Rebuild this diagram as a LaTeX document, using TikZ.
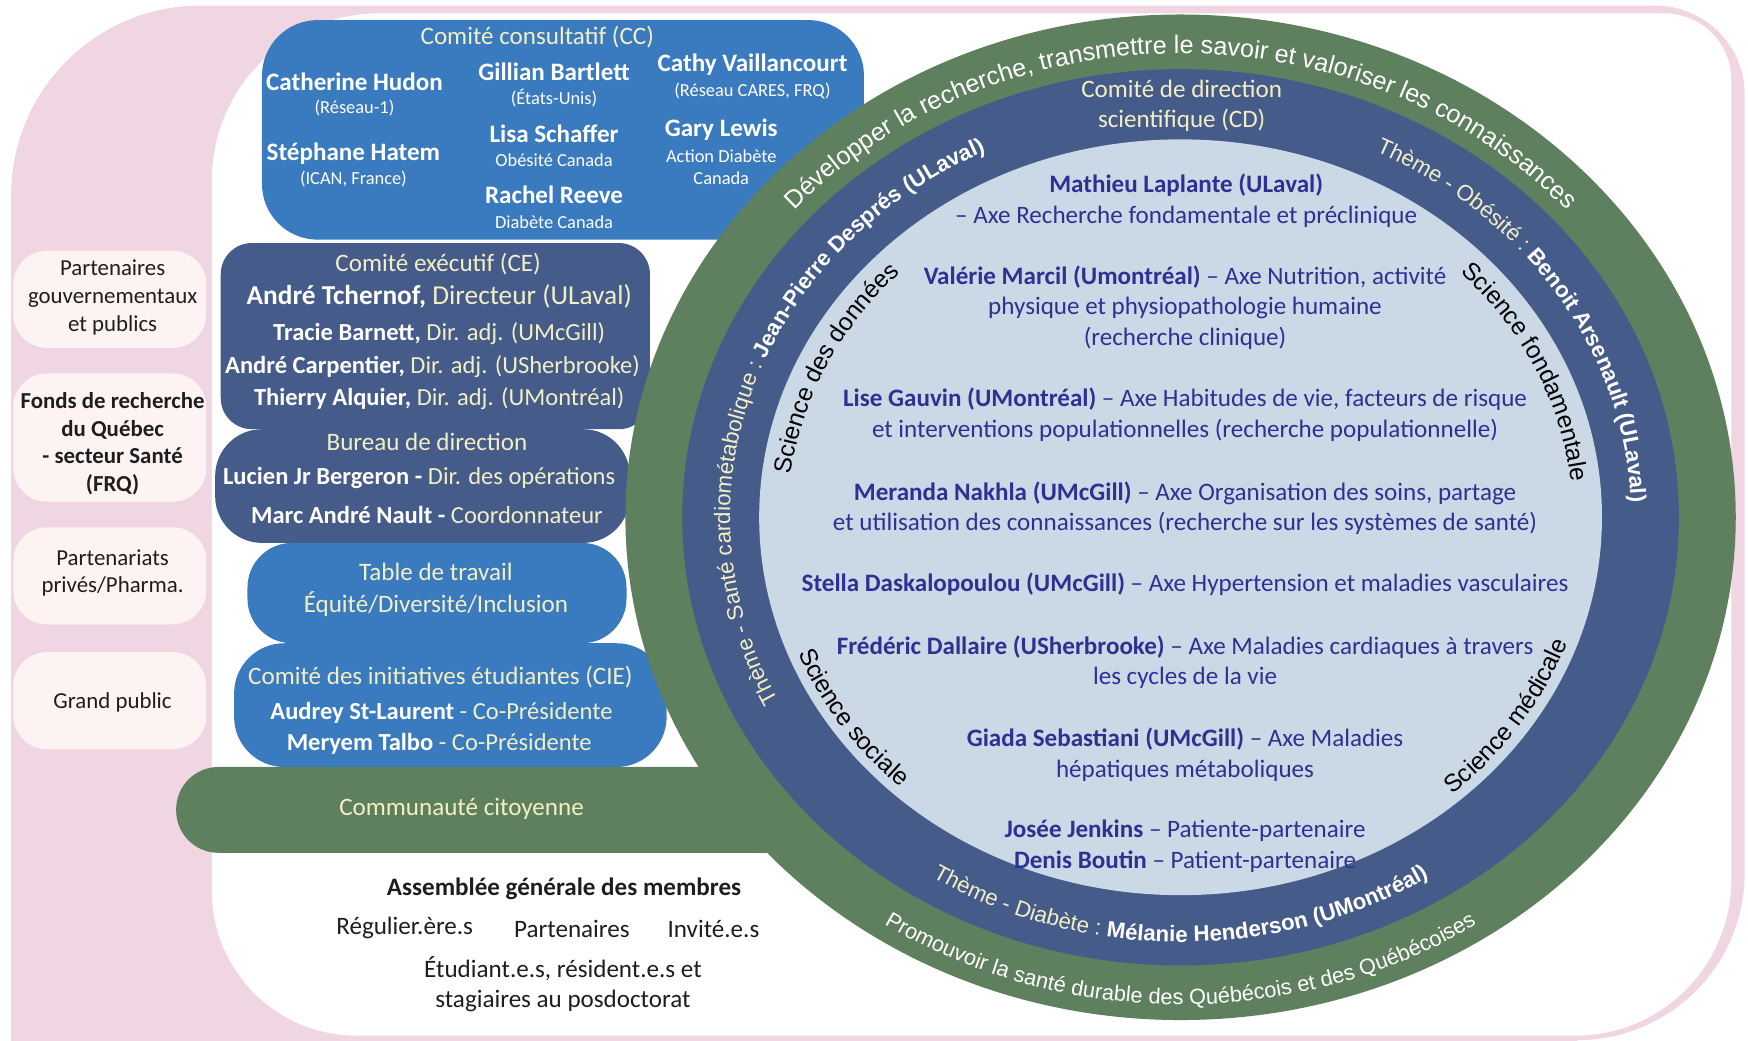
\documentclass[tikz,border=0pt]{standalone}
\usepackage{fontspec}
\setmainfont{Carlito}
\newfontfamily\arcfont{Liberation Sans}
\usetikzlibrary{decorations.text}

\definecolor{pinkbg}{RGB}{240,213,227}
\definecolor{boxpink}{RGB}{253,243,243}
\definecolor{medblue}{RGB}{58,123,191}
\definecolor{navy}{RGB}{69,91,137}
\definecolor{ringgreen}{RGB}{94,128,94}
\definecolor{paleblue}{RGB}{203,216,230}
\definecolor{cream}{RGB}{243,239,196}
\definecolor{inkblue}{RGB}{46,49,146}
\definecolor{ink}{RGB}{30,30,30}

% ring centre
\newcommand*{\ringx}{1059}
\newcommand*{\ringy}{-464}

\newcommand*{\nm}[1]{{\bfseries\color{white}#1}}
\newcommand*{\themefont}{\arcfont\fontsize{20}{20}\selectfont\color{cream}}
\newcommand*{\leadfont}{\arcfont\bfseries\fontsize{20}{20}\selectfont\color{white}}
\newcommand*{\sciencefont}{\arcfont\fontsize{22}{22}\selectfont\color{black}}

\begin{document}
\begin{tikzpicture}
[
	x=1pt,
	y=1pt,
	boxtitle/.style={text=cream,font=\fontsize{22.5}{26}\selectfont,inner sep=0pt},
	ccname/.style={text=white,font=\bfseries\fontsize{22.5}{26}\selectfont,inner sep=0pt},
	ccnote/.style={text=white,font=\fontsize{16.5}{20}\selectfont,align=center,inner sep=0pt},
	member/.style={text=cream,font=\fontsize{22}{25}\selectfont,inner sep=0pt},
	partner/.style={text=ink,font=\fontsize{20.5}{25}\selectfont,align=center,inner sep=0pt},
	agtext/.style={text=ink,font=\fontsize{22.5}{27}\selectfont,align=center,inner sep=0pt},
	axis/.style={text=inkblue,font=\fontsize{22.5}{27.5}\selectfont,align=center,inner sep=0pt},
	ringtext/.style={decorate,decoration={text along path,text align=center,text={#1}}}
]

	\useasboundingbox (0,0) rectangle (1568,-933);

	% background
	\fill[pinkbg] (10,-940) -- (10,-175) arc[start angle=180,end angle=90,radius=170pt]
	  -- (1485,-5) arc[start angle=90,end angle=0,radius=80pt]
	  -- (1565,-783) arc[start angle=0,end angle=-90,radius=150pt]
	  -- (1415,-940) -- cycle;
	\fill[white] (190,-162) arc[start angle=180,end angle=90,radius=150pt]
	  -- (1493,-12) arc[start angle=90,end angle=0,radius=60pt]
	  -- (1553,-789) arc[start angle=0,end angle=-90,radius=140pt]
	  -- (320,-929) arc[start angle=270,end angle=180,radius=130pt] -- cycle;

	% partner boxes
	\foreach \top/\bot in {225/312,335/450,473/560,585/672} {
		\fill[boxpink,rounded corners=30pt] (12,-\top) rectangle (185,-\bot);
	}
	\node[partner] (gouv) at (101,-267) {Partenaires\\gouvernementaux\\et publics};
	\node[partner,font=\bfseries\fontsize{20.5}{25}\selectfont] (frq) at (101,-398) {Fonds de recherche\\du Québec\\- secteur Santé\\(FRQ)};
	\node[partner] (pharma) at (101,-514) {Partenariats\\privés/Pharma.};
	\node[partner] (public) at (101,-630) {Grand public};

	% committee boxes
	\fill[medblue,rounded corners=50pt] (235,-18) rectangle (775,-215);
	\fill[navy,rounded corners=28pt] (198,-218) rectangle (583,-385);
	\fill[navy,rounded corners=42pt] (193,-385) rectangle (565,-487);
	\fill[medblue,rounded corners=40pt] (222,-487) rectangle (562,-577);
	\fill[medblue,rounded corners=45pt] (210,-577) rectangle (598,-688);
	\fill[ringgreen,rounded corners=38pt] (158,-688) rectangle (700,-765);
	\fill[ringgreen] (600,-688) rectangle (700,-765);

	% rings
	\fill[ringgreen] (\ringx,\ringy) ellipse[x radius=498pt,y radius=451pt];
	\fill[navy] (\ringx,\ringy) ellipse[x radius=447pt,y radius=402pt];
	\fill[paleblue] (\ringx,\ringy) ellipse[x radius=378pt,y radius=339pt];

	% comite consultatif
	\node[boxtitle] (cc) at (482,-33) {Comité consultatif (CC)};
	\node[ccname] (hudon) at (318,-73) {Catherine Hudon};
	\node[ccnote] (hudonorg) at (318,-97) {(Réseau-1)};
	\node[ccname] (hatem) at (317,-138) {Stéphane Hatem};
	\node[ccnote] (hatemorg) at (317,-161) {(ICAN, France)};
	\node[ccname] (bartlett) at (497,-64) {Gillian Bartlett};
	\node[ccnote] (bartlettorg) at (497,-88) {(États-Unis)};
	\node[ccname] (schaffer) at (497,-120) {Lisa Schaffer};
	\node[ccnote] (schafferorg) at (497,-144) {Obésité Canada};
	\node[ccname] (reeve) at (497,-175) {Rachel Reeve};
	\node[ccnote] (reeveorg) at (497,-199) {Diabète Canada};
	\node[ccname] (vaillancourt) at (675,-58) {Cathy Vaillancourt};
	\node[ccnote] (vaillancourtorg) at (675,-82) {(Réseau CARES, FRQ)};
	\node[ccname] (lewis) at (647,-116) {Gary Lewis};
	\node[ccnote] (lewisorg) at (647,-150) {Action Diabète\\Canada};

	% comite executif
	\node[boxtitle] (ce) at (393,-237) {Comité exécutif (CE)};
	\node[member,font=\fontsize{24.5}{27}\selectfont] (tchernof) at (394,-266) {\nm{André Tchernof,} Directeur (ULaval)};
	\node[member] (barnett) at (394,-299) {\nm{Tracie Barnett,} Dir. adj. (UMcGill)};
	\node[member] (carpentier) at (388,-329) {\nm{André Carpentier,} Dir. adj. (USherbrooke)};
	\node[member] (alquier) at (394,-358) {\nm{Thierry Alquier,} Dir. adj. (UMontréal)};

	% bureau de direction
	\node[boxtitle] (bureau) at (383,-396) {Bureau de direction};
	\node[member] (bergeron) at (376,-429) {\nm{Lucien Jr Bergeron -} Dir. des opérations};
	\node[member] (nault) at (383,-462) {\nm{Marc André Nault -} Coordonnateur};

	% table de travail
	\node[boxtitle,align=center,font=\fontsize{22.5}{28}\selectfont] (table) at (391,-529) {Table de travail\\Équité/Diversité/Inclusion};

	% etudiants
	\node[boxtitle] (cie) at (395,-607) {Comité des initiatives étudiantes (CIE)};
	\node[member] (stlaurent) at (396,-639) {\nm{Audrey St-Laurent} - Co-Présidente};
	\node[member] (talbo) at (394,-667) {\nm{Meryem Talbo} - Co-Présidente};

	% communaute
	\node[boxtitle] (citoyenne) at (414,-726) {Communauté citoyenne};

	% assemblee generale
	\node[agtext,font=\bfseries\fontsize{22.5}{26}\selectfont] (ag) at (506,-797) {Assemblée générale des membres};
	\node[agtext] (reguliers) at (363,-832) {Régulier.ère.s};
	\node[agtext] (partenaires) at (513,-833) {Partenaires};
	\node[agtext] (invites) at (640,-833) {Invité.e.s};
	\node[agtext] (etudiants) at (505,-883) {Étudiant.e.s, résident.e.s et\\stagiaires au posdoctorat};

	% comite de direction
	\node[boxtitle,align=center,font=\fontsize{22.5}{27}\selectfont] (cd) at (1060,-95) {Comité de direction\\scientifique (CD)};

	% axes
	\node[axis] (laplante) at (1064,-180) {\textbf{Mathieu Laplante (ULaval)}\\– Axe Recherche fondamentale et préclinique};
	\node[axis] (marcil) at (1063,-276) {\textbf{Valérie Marcil (Umontréal)} – Axe Nutrition, activité\\physique et physiopathologie humaine\\(recherche clinique)};
	\node[axis] (gauvin) at (1063,-372) {\textbf{Lise Gauvin (UMontréal)} – Axe Habitudes de vie, facteurs de risque\\et interventions populationnelles (recherche populationnelle)};
	\node[axis] (nakhla) at (1063,-456) {\textbf{Meranda Nakhla (UMcGill)} – Axe Organisation des soins, partage\\et utilisation des connaissances (recherche sur les systèmes de santé)};
	\node[axis] (daskalopoulou) at (1063,-524) {\textbf{Stella Daskalopoulou (UMcGill)} – Axe Hypertension et maladies vasculaires};
	\node[axis] (dallaire) at (1063,-594) {\textbf{Frédéric Dallaire (USherbrooke)} – Axe Maladies cardiaques à travers\\les cycles de la vie};
	\node[axis] (sebastiani) at (1063,-677) {\textbf{Giada Sebastiani (UMcGill)} – Axe Maladies\\hépatiques métaboliques};
	\node[axis] (patients) at (1063,-759) {\textbf{Josée Jenkins} – Patiente-partenaire\\\textbf{Denis Boutin} – Patient-partenaire};

	% mission (green ring)
	\path[ringtext={|\arcfont\fontsize{22.5}{22.5}\selectfont\color{white}|Développer la recherche, transmettre le savoir et valoriser les connaissances}]
	  (\ringx,\ringy) ++(170:462pt and 416pt) arc[start angle=170,end angle=10,x radius=462pt,y radius=416pt];
	\path[ringtext={|\arcfont\fontsize{19.5}{19.5}\selectfont\color{white}|Promouvoir la santé durable des Québécois et des Québécoises}]
	  (\ringx,\ringy) ++(210:484pt and 437pt) arc[start angle=210,end angle=330,x radius=484pt,y radius=437pt];

	% themes (navy ring)
	\path[ringtext={|\themefont|Thème - Santé cardiométabolique : |\leadfont|Jean-Pierre Després (ULaval)}]
	  (\ringx,\ringy) ++(240:404pt and 364pt) arc[start angle=240,end angle=84,x radius=404pt,y radius=364pt];
	\path[ringtext={|\themefont|Thème - Obésité : |\leadfont|Benoit Arsenault (ULaval)}]
	  (\ringx,\ringy) ++(90:404pt and 364pt) arc[start angle=90,end angle=-26,x radius=404pt,y radius=364pt];
	\path[ringtext={|\themefont|Thème - Diabète : |\leadfont|Mélanie Henderson (UMontréal)}]
	  (\ringx,\ringy) ++(210:420pt and 381pt) arc[start angle=210,end angle=330,x radius=420pt,y radius=381pt];

	% sciences (inner disc)
	\path[ringtext={|\sciencefont|Science des données}]
	  (\ringx,\ringy) ++(192:352pt and 313pt) arc[start angle=192,end angle=118,x radius=352pt,y radius=313pt];
	\path[ringtext={|\sciencefont|Science fondamentale}]
	  (\ringx,\ringy) ++(62:352pt and 313pt) arc[start angle=62,end angle=-13,x radius=352pt,y radius=313pt];
	\path[ringtext={|\sciencefont|Science sociale}]
	  (\ringx,\ringy) ++(178:369pt and 331pt) arc[start angle=178,end angle=249,x radius=369pt,y radius=331pt];
	\path[ringtext={|\sciencefont|Science médicale}]
	  (\ringx,\ringy) ++(291:369pt and 331pt) arc[start angle=291,end angle=362,x radius=369pt,y radius=331pt];

\end{tikzpicture}
\end{document}
